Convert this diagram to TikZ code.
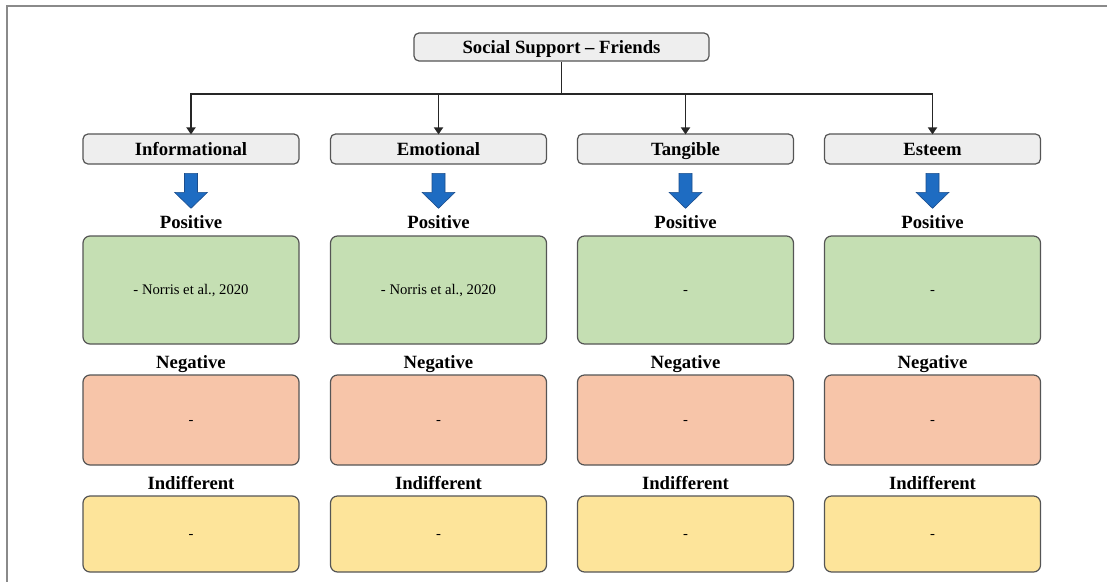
\documentclass[tikz,border=0pt]{standalone}
\usepackage{fontspec}
\setmainfont{Liberation Serif}
\usetikzlibrary{arrows.meta}
\definecolor{framegray}{HTML}{8A8A8A}
\definecolor{bordergray}{HTML}{555555}
\definecolor{catgray}{HTML}{EEEEEE}
\definecolor{posgreen}{HTML}{C5DFB3}
\definecolor{negred}{HTML}{F7C5A9}
\definecolor{indyellow}{HTML}{FDE49A}
\definecolor{arrowblue}{HTML}{1E6CC2}
\definecolor{arrowedge}{HTML}{1B4D8C}
\newcommand\mycatfont{\fontsize{18.7}{22}\selectfont\bfseries}
\newcommand\mytxtfont{\fontsize{14.7}{17}\selectfont}
\begin{document}
\begin{tikzpicture}[x=1pt,y=-1pt,
  box/.style={draw=bordergray, line width=1.2pt, rounded corners=7pt, inner sep=0pt, minimum width=216pt,
              text height=9.8pt, text depth=0pt},
  catbox/.style={box, fill=catgray, minimum height=30pt, rounded corners=5pt, font=\mycatfont,
              text height=12.7pt, text depth=0pt},
  topbox/.style={catbox, minimum width=295pt, minimum height=28pt},
  posbox/.style={box, fill=posgreen, minimum height=108pt, font=\mytxtfont},
  negbox/.style={box, fill=negred, minimum height=90pt, font=\mytxtfont},
  indbox/.style={box, fill=indyellow, minimum height=76pt, font=\mytxtfont},
  lbl/.style={font=\mycatfont, inner sep=0pt, text height=12.7pt, text depth=0pt},
  conn/.style={draw=black!85, line width=1.8pt},
  connarrow/.style={conn, -{Triangle[length=7pt,width=9pt]}},
  bluearrow/.style={fill=arrowblue, draw=arrowedge, line width=0.6pt, line join=miter}
]
\useasboundingbox (0,0) rectangle (1107,581);
\draw[framegray, line width=1.8pt] (7,582) -- (7,6) -- (1108,6);

\node[topbox] (top) at (561.5,47) {Social Support -- Friends};
\coordinate (j) at (561.5,94);

\foreach \i/\x/\name/\ptext in {1/191/Informational/{- Norris et al., 2020},
                                2/438.5/Emotional/{- Norris et al., 2020},
                                3/685.5/Tangible/{-},
                                4/932.5/Esteem/{-}} {
  \node[catbox] (c\i) at (\x,149) {\name};
  \draw[bluearrow, shift={(c\i.south)}] (-6.5,8.7) -- (6.5,8.7) -- (6.5,27.7) -- (16.5,27.7)
        -- (0,43.7) -- (-16.5,27.7) -- (-6.5,27.7) -- cycle;
  \node[lbl] (pl\i) at (\x,222) {Positive};
  \node[posbox] (p\i) at (\x,290) {\ptext};
  \node[lbl] (nl\i) at (\x,362) {Negative};
  \node[negbox] (n\i) at (\x,420) {-};
  \node[lbl] (il\i) at (\x,483) {Indifferent};
  \node[indbox] (d\i) at (\x,534) {-};
  \draw[connarrow] (c\i |- j) -- ([yshift=-1pt]c\i.north);
}
\draw[conn] (top.south) -- (j);
\draw[conn, line cap=rect] (c1 |- j) -- (c4 |- j);
\end{tikzpicture}
\end{document}
